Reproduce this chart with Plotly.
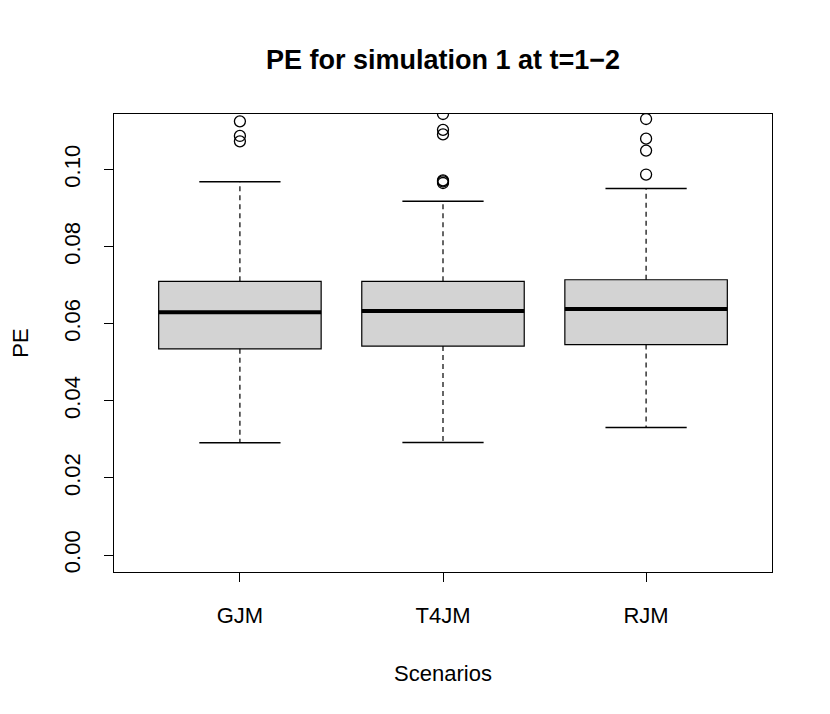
import plotly.graph_objects as go

categories = ["GJM", "T4JM", "RJM"]
q1 = [0.0535, 0.0542, 0.0546]
median = [0.0630, 0.0633, 0.0638]
q3 = [0.0710, 0.0710, 0.0714]
lower_whisker = [0.0291, 0.0292, 0.0331]
upper_whisker = [0.0968, 0.0918, 0.0951]
outliers = [
    [0.1125, 0.1087, 0.1073],
    [0.1144, 0.1103, 0.1091, 0.0972, 0.0969, 0.0965],
    [0.1131, 0.1080, 0.1049, 0.0987],
]
yticks = [0.00, 0.02, 0.04, 0.06, 0.08, 0.10]

FONT = "Liberation Sans, Arial, sans-serif"
HALF = 0.4      # half box width (R boxwex 0.8)
STAPLE = 0.2    # half staple width
W, H = 822, 706

fig = go.Figure()
pos = list(range(1, len(categories) + 1))

for i, c in enumerate(pos):
    fig.add_trace(go.Box(
        x=[c], q1=[q1[i]], median=[median[i]], q3=[q3[i]],
        lowerfence=[q1[i]], upperfence=[q3[i]],
        width=2 * HALF, fillcolor="#D3D3D3",
        line=dict(color="black", width=1.2), whiskerwidth=0,
        boxpoints=False, showlegend=False, hoverinfo="skip"))
    fig.add_trace(go.Scatter(
        x=[c - HALF, c + HALF], y=[median[i], median[i]], mode="lines",
        line=dict(color="black", width=4), showlegend=False, hoverinfo="skip"))
    fig.add_trace(go.Scatter(
        x=[c, c, None, c, c], y=[q3[i], upper_whisker[i], None, q1[i], lower_whisker[i]],
        mode="lines", line=dict(color="black", width=1.2, dash="5px,4px"),
        showlegend=False, hoverinfo="skip", connectgaps=False))
    fig.add_trace(go.Scatter(
        x=[c - STAPLE, c + STAPLE, None, c - STAPLE, c + STAPLE],
        y=[upper_whisker[i], upper_whisker[i], None, lower_whisker[i], lower_whisker[i]],
        mode="lines", line=dict(color="black", width=1.5),
        showlegend=False, hoverinfo="skip", connectgaps=False))
    fig.add_trace(go.Scatter(
        x=[c] * len(outliers[i]), y=outliers[i], mode="markers",
        marker=dict(symbol="circle-open", size=11, color="black", line=dict(width=1.3)),
        showlegend=False, hoverinfo="skip", cliponaxis=True))

fig.update_layout(
    width=W, height=H,
    paper_bgcolor="white", plot_bgcolor="white",
    margin=dict(l=106, r=58, t=106, b=142),
    font=dict(family=FONT, size=22, color="black"),
    title=dict(text="<b>PE for simulation 1 at t=1\u22122</b>",
               x=(443 - 8) / W, xanchor="center",
               y=1 - (60 - 8) / H, yanchor="middle", font=dict(size=27, family=FONT)),
    showlegend=False,
)
fig.update_xaxes(
    range=[0.38, 3.62], tickmode="array", tickvals=pos, ticktext=categories,
    ticks="outside", ticklen=9, tickcolor="black", tickwidth=1,
    ticklabelstandoff=15, automargin=False,
    showline=True, linecolor="black", linewidth=1, mirror=True,
    showgrid=False, zeroline=False,
    title=dict(text="Scenarios", standoff=38, font=dict(size=22)),
    tickfont=dict(size=22),
)
fig.update_yaxes(
    range=[-0.0044, 0.1144], tickmode="array", tickvals=yticks,
    ticktext=["%.2f" % v for v in yticks], tickangle=-90,
    ticks="outside", ticklen=9, tickcolor="black", tickwidth=1,
    ticklabelstandoff=15, automargin=False,
    showline=True, linecolor="black", linewidth=1, mirror=True,
    showgrid=False, zeroline=False,
    title=dict(text="PE", standoff=30, font=dict(size=22)),
    tickfont=dict(size=22),
)

fig.write_html("out.html")
